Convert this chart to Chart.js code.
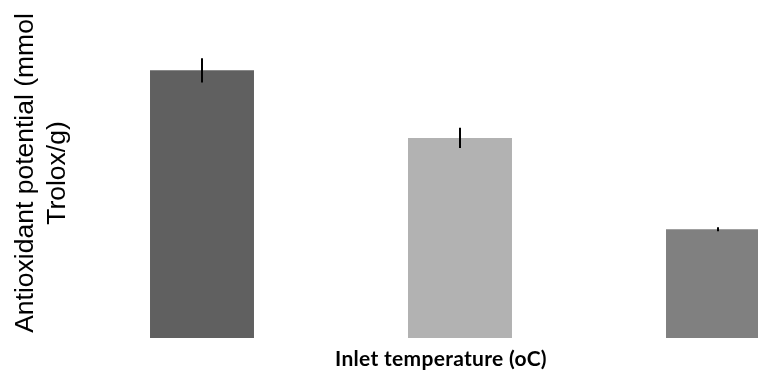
<!DOCTYPE html>
<html>
<head>
<meta charset="utf-8">
<script src="https://cdn.jsdelivr.net/npm/chart.js@4"></script>
<style>
  html, body { margin: 0; padding: 0; background: #fff; overflow: hidden; }
  #wrap { position: relative; width: 847px; height: 372px; }
</style>
</head>
<body>
<div id="wrap"><canvas id="chart"></canvas></div>
<script>
// values (y scale 0 - 0.5, no ticks shown)
const categories = ['T1', 'T2', 'T3'];
const values = [0.396, 0.296, 0.161];
const errors = [0.018, 0.015, 0.003];
const barColors = ['#606060', '#b2b2b2', '#808080'];

const yTitle = ['Antioxidant potential (mmol', 'Trolox/g)'];
const xTitle = 'Inlet temperature (oC)';

// error bars drawn from the y scale
const errorBars = {
  id: 'errorBars',
  afterDatasetsDraw(chart) {
    const { ctx, scales: { x, y } } = chart;
    ctx.save();
    ctx.strokeStyle = '#000';
    ctx.lineWidth = 2;
    values.forEach((v, i) => {
      const cx = x.getPixelForValue(i);
      ctx.beginPath();
      ctx.moveTo(cx, y.getPixelForValue(v + errors[i]));
      ctx.lineTo(cx, y.getPixelForValue(v - errors[i]));
      ctx.stroke();
    });
    ctx.restore();
  }
};

// axis titles (axes themselves are hidden)
const titles = {
  id: 'titles',
  afterDraw(chart) {
    const { ctx } = chart;
    ctx.save();
    ctx.fillStyle = '#000';
    ctx.textAlign = 'center';
    ctx.textBaseline = 'alphabetic';

    ctx.font = '26.5px "Liberation Sans", Arial, sans-serif';
    ctx.translate(33, 173);
    ctx.rotate(-Math.PI / 2);
    yTitle.forEach((line, i) => ctx.fillText(line, 0, i * 32));
    ctx.setTransform(1, 0, 0, 1, 0, 0);

    ctx.font = 'bold 21px Lato, sans-serif';
    ctx.letterSpacing = '0.3px';
    ctx.fillText(xTitle, 441, 366);
    ctx.restore();
  }
};

new Chart(document.getElementById('chart'), {
  type: 'bar',
  data: {
    labels: categories,
    datasets: [{
      data: values,
      backgroundColor: barColors,
      borderWidth: 0,
      barPercentage: 0.403,
      categoryPercentage: 1
    }]
  },
  options: {
    responsive: true,
    maintainAspectRatio: false,
    animation: false,
    layout: { padding: { left: 73, right: 0, top: 0, bottom: 34 } },
    scales: {
      x: { display: false },
      y: { display: false, min: 0, max: 0.5 }
    },
    plugins: {
      legend: { display: false },
      tooltip: { enabled: false }
    }
  },
  plugins: [errorBars, titles]
});
</script>
</body>
</html>
